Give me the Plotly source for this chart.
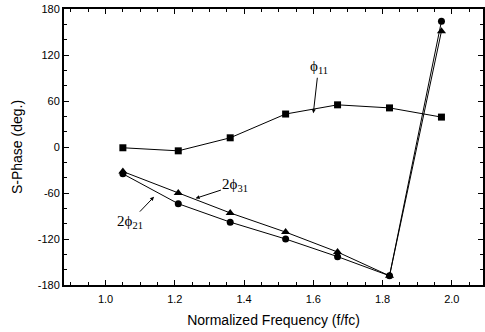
import plotly.graph_objects as go

freq = [1.05, 1.21, 1.36, 1.52, 1.67, 1.82, 1.97]
phi11 = [-1, -5, 12, 43, 55, 51, 39]
phi21 = [-35, -74, -98, -120, -143, -168, 164]
phi31 = [-32, -60, -86, -111, -137, -168, 151]

fig = go.Figure()
line = dict(color="black", width=1)
fig.add_trace(go.Scatter(x=freq, y=phi21, mode="lines+markers", line=line,
                         marker=dict(symbol="circle", size=7, color="black")))
fig.add_trace(go.Scatter(x=freq, y=phi31, mode="lines+markers", line=line,
                         marker=dict(symbol="triangle-up", size=8, color="black")))
fig.add_trace(go.Scatter(x=freq, y=phi11, mode="lines+markers", line=line,
                         marker=dict(symbol="square", size=7, color="black")))

serif = dict(family="Liberation Serif", size=15, color="black")
arrow = dict(showarrow=True, arrowhead=2, arrowsize=0.8, arrowwidth=1, arrowcolor="black",
             xref="x", yref="y", axref="x", ayref="y", font=serif)
fig.add_annotation(x=1.60, y=44, ax=1.615, ay=104, text="ϕ<sub>11</sub>", standoff=0, **arrow)
fig.add_annotation(x=1.26, y=-67, ax=1.375, ay=-50, text="2ϕ<sub>31</sub>", **arrow)
fig.add_annotation(x=1.14, y=-65, ax=1.07, ay=-98, text="2ϕ<sub>21</sub>", **arrow)

fig.update_xaxes(range=[0.88, 2.09], tickmode="array", tickvals=[1.0, 1.2, 1.4, 1.6, 1.8, 2.0],
                 ticktext=["1.0", "1.2", "1.4", "1.6", "1.8", "2.0"],
                 ticks="inside", ticklen=5, tickwidth=1, tickcolor="black",
                 minor=dict(ticks="inside", ticklen=3, tickvals=[0.9 + 0.05 * i for i in range(24)], tickcolor="black"),
                 showline=True, linecolor="black", linewidth=2, mirror="allticks",
                 showgrid=False, zeroline=False, automargin=False, ticklabelstandoff=3,
                 title=dict(text="Normalized Frequency (f/fc)", font=dict(family="Liberation Sans", size=14, color="black"), standoff=11),
                 tickfont=dict(family="Liberation Sans", size=11, color="black"))
fig.update_yaxes(range=[-180, 180], tickmode="array", tickvals=[-180, -120, -60, 0, 60, 120, 180],
                 ticktext=["-180", "-120", "-60", "0", "60", "120", "180"],
                 ticks="inside", ticklen=5, tickwidth=1, tickcolor="black",
                 minor=dict(ticks="inside", ticklen=3, dtick=20, tick0=-180, tickcolor="black"),
                 showline=True, linecolor="black", linewidth=2, mirror="allticks",
                 showgrid=False, zeroline=False, automargin=False,
                 title=dict(text="S-Phase (deg.)", font=dict(family="Liberation Sans", size=14, color="black"), standoff=12),
                 tickfont=dict(family="Liberation Sans", size=11, color="black"))
fig.update_layout(width=485, height=332, margin=dict(l=64, r=2, t=9, b=47),
                  plot_bgcolor="white", paper_bgcolor="white", showlegend=False)
fig.write_html("out.html", config={"displayModeBar": False},
               post_script="document.body.style.margin='0';")
